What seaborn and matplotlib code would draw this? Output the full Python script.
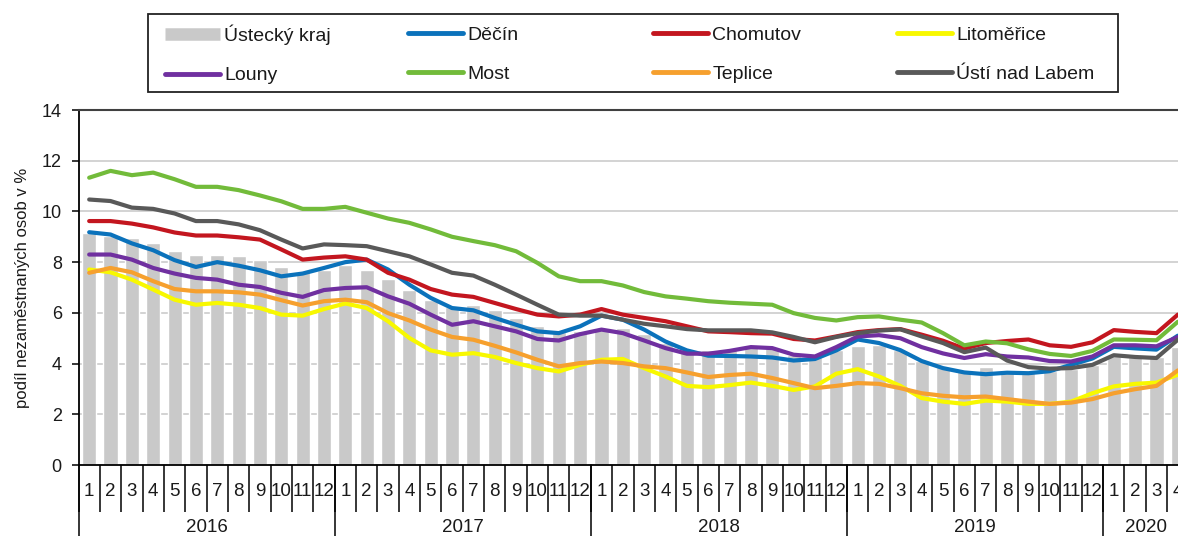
import matplotlib
matplotlib.use("Agg")
import numpy as np
import pandas as pd
import seaborn as sns
import matplotlib.pyplot as plt
from matplotlib.lines import Line2D
from matplotlib.patches import Rectangle

# ============================
# Data (monthly, 1/2016 - 4/2020)
# ============================
months = list(range(1, 13)) * 4 + [1, 2, 3, 4]
years = ["2016", "2017", "2018", "2019", "2020"]
year_lengths = [12, 12, 12, 12, 4]

ustecky_kraj = [9.15, 9.05, 8.95, 8.75, 8.45, 8.3, 8.3, 8.25, 8.1, 7.8, 7.6, 7.7,
                7.9, 7.7, 7.35, 6.9, 6.5, 6.25, 6.3, 6.1, 5.8, 5.5, 5.25, 5.3,
                5.35, 5.4, 5.15, 4.8, 4.45, 4.55, 4.55, 4.7, 4.6, 4.35, 4.25, 4.55,
                4.7, 4.75, 4.55, 4.1, 3.85, 3.7, 3.85, 3.75, 3.7, 3.7, 3.8, 3.95,
                4.3, 4.25, 4.25, 4.65]

decin = [9.18, 9.09, 8.74, 8.47, 8.08, 7.81, 8.0, 7.86, 7.68, 7.44, 7.55, 7.77,
         8.0, 8.1, 7.71, 7.11, 6.59, 6.19, 6.1, 5.8, 5.53, 5.27, 5.2, 5.47,
         5.89, 5.73, 5.34, 4.87, 4.52, 4.31, 4.3, 4.28, 4.24, 4.12, 4.18, 4.52,
         4.95, 4.81, 4.53, 4.1, 3.82, 3.65, 3.58, 3.64, 3.62, 3.7, 3.95, 4.2,
         4.66, 4.6, 4.55, 5.1]

chomutov = [9.62, 9.62, 9.52, 9.37, 9.17, 9.05, 9.05, 8.98, 8.89, 8.5, 8.1, 8.18,
            8.23, 8.1, 7.58, 7.31, 6.94, 6.72, 6.63, 6.39, 6.15, 5.93, 5.86, 5.93,
            6.15, 5.93, 5.8, 5.67, 5.47, 5.27, 5.24, 5.2, 5.18, 4.97, 4.91, 5.07,
            5.24, 5.32, 5.36, 5.14, 4.9, 4.59, 4.81, 4.89, 4.95, 4.72, 4.66, 4.84,
            5.32, 5.25, 5.2, 5.93]

litomerice = [7.71, 7.6, 7.31, 6.92, 6.52, 6.32, 6.39, 6.32, 6.19, 5.93, 5.89, 6.15,
              6.37, 6.19, 5.67, 5.01, 4.52, 4.35, 4.41, 4.26, 4.02, 3.82, 3.69, 3.95,
              4.15, 4.18, 3.82, 3.49, 3.12, 3.07, 3.15, 3.25, 3.12, 2.96, 3.1, 3.6,
              3.78, 3.49, 3.12, 2.64, 2.5, 2.41, 2.54, 2.5, 2.41, 2.41, 2.5, 2.83,
              3.1, 3.2, 3.25, 3.56]

louny = [8.3, 8.3, 8.1, 7.77, 7.55, 7.38, 7.31, 7.11, 7.02, 6.79, 6.63, 6.9,
         6.98, 7.01, 6.65, 6.36, 5.93, 5.53, 5.67, 5.47, 5.27, 4.97, 4.91, 5.16,
         5.34, 5.2, 4.91, 4.61, 4.39, 4.39, 4.5, 4.65, 4.61, 4.35, 4.28, 4.65,
         5.07, 5.12, 5.0, 4.65, 4.4, 4.22, 4.37, 4.28, 4.24, 4.1, 4.08, 4.28,
         4.72, 4.72, 4.68, 5.05]

most = [11.33, 11.6, 11.43, 11.53, 11.27, 10.97, 10.97, 10.84, 10.63, 10.4, 10.1, 10.1,
        10.18, 9.95, 9.72, 9.55, 9.29, 9.0, 8.83, 8.67, 8.43, 7.97, 7.44, 7.25,
        7.25, 7.08, 6.82, 6.65, 6.56, 6.46, 6.4, 6.36, 6.32, 5.99, 5.8, 5.7,
        5.83, 5.86, 5.73, 5.62, 5.2, 4.72, 4.87, 4.8, 4.56, 4.38, 4.3, 4.5,
        4.95, 4.94, 4.92, 5.65]

teplice = [7.58, 7.77, 7.6, 7.25, 6.94, 6.85, 6.85, 6.81, 6.72, 6.5, 6.29, 6.46,
           6.52, 6.42, 5.99, 5.7, 5.34, 5.05, 4.94, 4.7, 4.44, 4.15, 3.89, 4.02,
           4.08, 4.02, 3.89, 3.82, 3.65, 3.47, 3.55, 3.6, 3.43, 3.23, 3.03, 3.12,
           3.23, 3.2, 3.03, 2.83, 2.73, 2.67, 2.7, 2.6, 2.5, 2.41, 2.46, 2.6,
           2.83, 2.99, 3.12, 3.73]

usti_nad_labem = [10.47, 10.41, 10.15, 10.1, 9.92, 9.62, 9.62, 9.49, 9.26, 8.89, 8.54, 8.7,
                  8.67, 8.63, 8.43, 8.23, 7.91, 7.58, 7.47, 7.11, 6.72, 6.32, 5.93, 5.89,
                  5.89, 5.73, 5.57, 5.47, 5.36, 5.31, 5.31, 5.31, 5.23, 5.05, 4.84, 5.05,
                  5.2, 5.3, 5.35, 5.07, 4.81, 4.45, 4.63, 4.12, 3.86, 3.8, 3.82, 3.95,
                  4.33, 4.26, 4.22, 4.94]

series_names = ["Děčín", "Chomutov", "Litoměřice", "Louny", "Most", "Teplice", "Ústí nad Labem"]
series_values = [decin, chomutov, litomerice, louny, most, teplice, usti_nad_labem]
colors = {
    "Děčín": "#0b72bb",
    "Chomutov": "#c3161f",
    "Litoměřice": "#f8f800",
    "Louny": "#7030a0",
    "Most": "#72bb3a",
    "Teplice": "#f6a02e",
    "Ústí nad Labem": "#595959",
}
bar_color = "#c9c9c9"
bar_label = "Ústecký kraj"

idx = np.arange(len(months))
df = pd.DataFrame({"idx": idx})
for name, vals in zip(series_names, series_values):
    df[name] = vals
long = df.melt(id_vars="idx", var_name="okres", value_name="podil")

# ============================
# Figure
# ============================
sns.set_theme(style="white")
plt.rcParams["font.family"] = ["Liberation Sans", "DejaVu Sans"]

fig = plt.figure(figsize=(11.78, 5.36), dpi=100)
ax = fig.add_axes([78.5 / 1178, 71 / 536, 1110 / 1178, 355 / 536])

sns.barplot(x=idx, y=ustecky_kraj, color=bar_color, saturation=1, width=0.66,
            errorbar=None, ax=ax, zorder=2)
sns.lineplot(data=long, x="idx", y="podil", hue="okres", hue_order=series_names,
             palette=colors, linewidth=3, legend=False, ax=ax, zorder=3)

ax.set_xlim(-0.5, len(months) - 0.5)
ax.set_ylim(0, 14)
ax.set_yticks(range(0, 15, 2))
ax.yaxis.grid(True, color="#d0d0d0", linewidth=1.3)
ax.set_axisbelow(True)

for side in ["left", "bottom"]:
    ax.spines[side].set_color("black")
    ax.spines[side].set_linewidth(1.3)
ax.spines["top"].set_color("#404040")
ax.spines["top"].set_linewidth(1.5)
ax.spines["right"].set_visible(False)

# month labels, with separators between months
ax.set_xticks(idx)
ax.set_xticklabels(months)
ax.set_xticks(np.arange(-0.5, len(months), 1), minor=True)
ax.tick_params(axis="x", which="major", length=0, pad=13, labelsize=13.5, labelcolor="#1a1a1a")
ax.tick_params(axis="x", which="minor", bottom=True, length=34, width=1.1,
               color="black", direction="out")
ax.tick_params(axis="y", length=5, width=1.1, color="black", direction="out",
               labelsize=13, labelcolor="#1a1a1a", left=True, pad=7)
ax.set_xlabel("")
ax.set_ylabel("podíl nezaměstnaných osob v %", fontsize=12, color="#1a1a1a")
ax.yaxis.set_label_coords(-0.044, 0.5)

# year separators and labels below the month labels
trans = ax.get_xaxis_transform()
start = -0.5
for year, n in zip(years, year_lengths):
    ax.plot([start, start], [0, -0.25], color="black", linewidth=1.1,
            transform=trans, clip_on=False)
    ax.text(start + n / 2, -0.175, year, transform=trans, ha="center", va="center",
            fontsize=13.5, color="#1a1a1a")
    start += n

# ============================
# Legend (frame + four columns)
# ============================
fig.add_artist(Rectangle((148 / 1178, 1 - 92 / 536), 970 / 1178, 78 / 536,
                         transform=fig.transFigure, fill=False,
                         edgecolor="#222222", linewidth=1.3))

handles = [Line2D([], [], color=bar_color, linewidth=9, solid_capstyle="butt", label=bar_label)]
for name in series_names:
    handles.append(Line2D([], [], color=colors[name], linewidth=3.5, label=name))

columns = [[handles[0], handles[4]], [handles[1], handles[5]],
           [handles[2], handles[6]], [handles[3], handles[7]]]
col_x = [165, 408, 653, 897]
for cx, col in zip(col_x, columns):
    leg = fig.legend(handles=col, loc="center left", bbox_to_anchor=(cx / 1178, 1 - 54.5 / 536),
                     frameon=False, fontsize=14, handlelength=2.85, handletextpad=0.2,
                     labelspacing=1.12, borderpad=0, borderaxespad=0)
    for t in leg.get_texts():
        t.set_color("#1a1a1a")

fig.savefig("out.png", dpi=100)
